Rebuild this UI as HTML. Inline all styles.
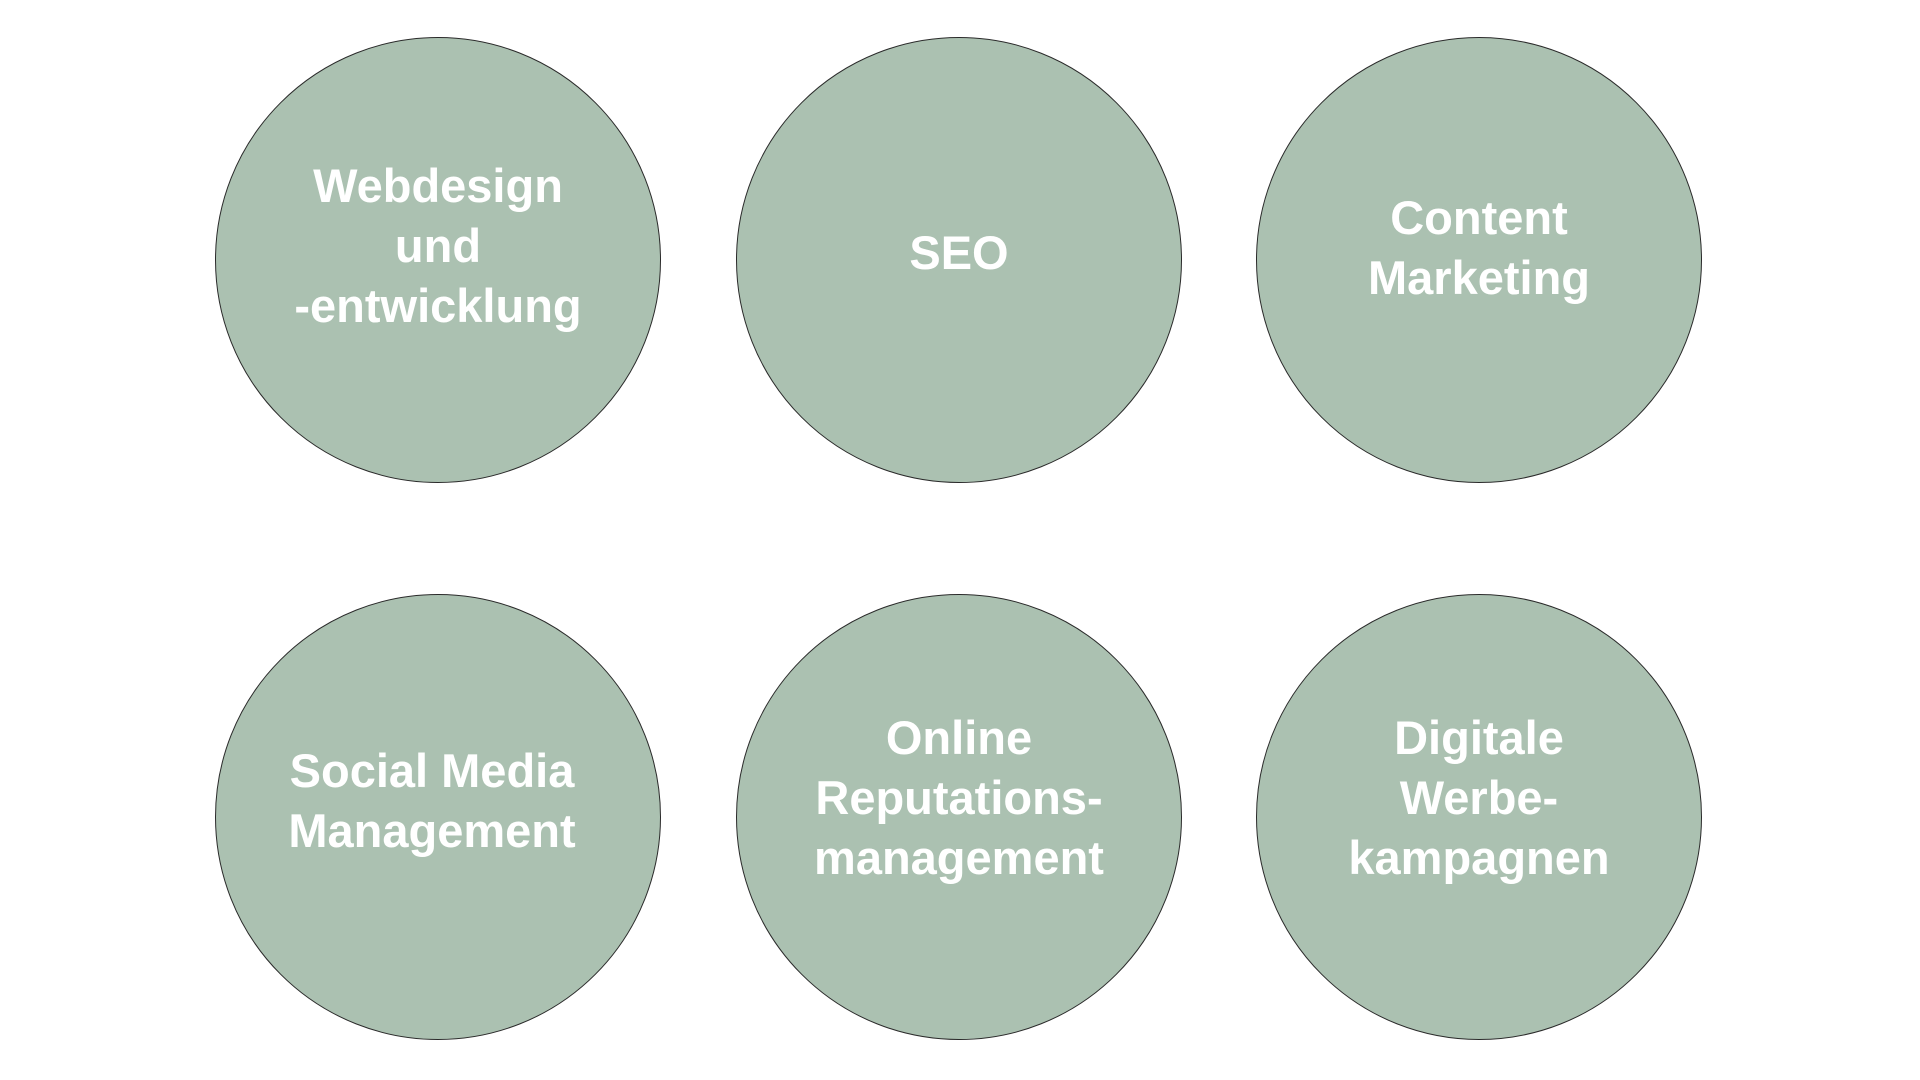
<!DOCTYPE html>
<html><head><meta charset="utf-8"><style>
html,body{margin:0;padding:0;background:#fff;width:1920px;height:1080px;overflow:hidden}
.c{position:absolute;width:446px;height:446px;border-radius:50%;background:#abc1b1;border:1.5px solid #2a2a2a;box-sizing:border-box}
.t{position:absolute;width:500px;text-align:center;color:#fff;font-family:"Liberation Sans",sans-serif;font-weight:bold;font-size:47px;line-height:60px;transform:translate(-50%,-50%)}
</style></head><body>
<div class="c" style="left:215px;top:37px"></div>
<div class="c" style="left:736px;top:37px"></div>
<div class="c" style="left:1256px;top:37px"></div>
<div class="c" style="left:215px;top:594px"></div>
<div class="c" style="left:736px;top:594px"></div>
<div class="c" style="left:1256px;top:594px"></div>
<div class="t" style="left:438px;top:246px">Webdesign<br>und<br>-entwicklung</div>
<div class="t" style="left:959px;top:253px">SEO</div>
<div class="t" style="left:1479px;top:248px">Content<br>Marketing</div>
<div class="t" style="left:432px;top:801px">Social Media<br>Management</div>
<div class="t" style="left:959px;top:798px">Online<br>Reputations-<br>management</div>
<div class="t" style="left:1479px;top:798px">Digitale<br>Werbe-<br>kampagnen</div>
</body></html>
